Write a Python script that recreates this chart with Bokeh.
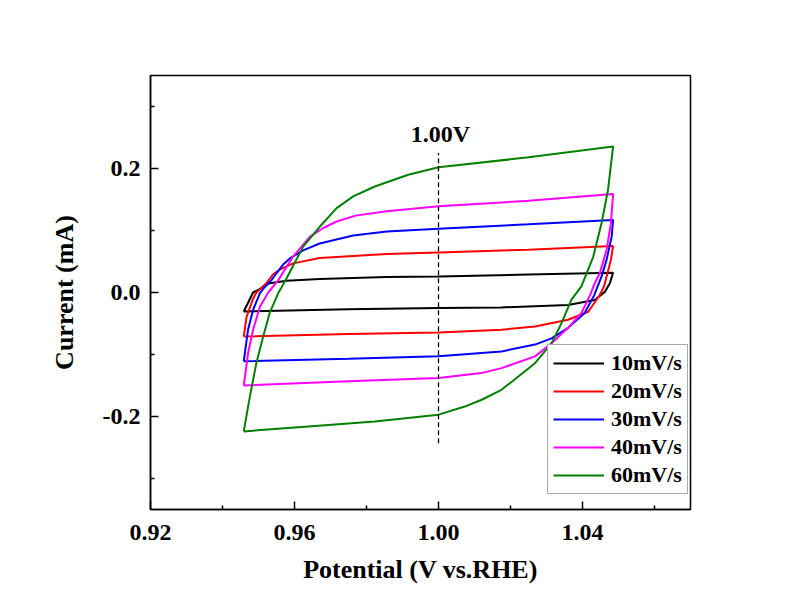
from bokeh.plotting import figure
from bokeh.models import Range1d, FixedTicker, Legend, LegendItem, Label
from bokeh.embed import file_html
from bokeh.resources import INLINE

# ---- data ----
labels = ["10mV/s", "20mV/s", "30mV/s", "40mV/s", "60mV/s"]
colors = ["#000000", "#ff0000", "#0000ff", "#ff00ff", "#008000"]

v10 = [0.9459, 0.9485, 0.9508, 0.9531, 0.9578, 0.9670, 0.9856, 1.0000, 1.0250, 1.0485,
       1.0476, 1.0462, 1.0434, 1.0360, 1.0175, 1.0000, 0.9750, 0.9459]
i10 = [-0.0306, 0.0000, 0.0070, 0.0150, 0.0190, 0.0216, 0.0250, 0.0260, 0.0290, 0.0320,
       0.0150, 0.0010, -0.0120, -0.0200, -0.0240, -0.0250, -0.0270, -0.0306]

v20 = [0.9459, 0.9467, 0.9485, 0.9494, 0.9522, 0.9540, 0.9559, 0.9596, 0.9670, 0.9763,
       0.9856, 1.0000, 1.0250, 1.0485, 1.0479, 1.0467, 1.0460, 1.0448, 1.0416, 1.0360,
       1.0268, 1.0175, 1.0000, 0.9750, 0.9459]
i20 = [-0.0710, -0.0390, -0.0100, 0.0000, 0.0150, 0.0290, 0.0370, 0.0470, 0.0555, 0.0590,
       0.0620, 0.0645, 0.0690, 0.0750, 0.0530, 0.0260, 0.0100, -0.0040, -0.0310, -0.0440,
       -0.0550, -0.0600, -0.0645, -0.0670, -0.0710]

v30 = [0.9459, 0.9471, 0.9485, 0.9504, 0.9513, 0.9536, 0.9550, 0.9570, 0.9587, 0.9624,
       0.9670, 0.9763, 0.9856, 1.0000, 1.0250, 1.0485, 1.0481, 1.0467, 1.0453, 1.0432,
       1.0406, 1.0360, 1.0314, 1.0268, 1.0175, 1.0000, 0.9750, 0.9459]
i30 = [-0.1110, -0.0600, -0.0280, -0.0010, 0.0060, 0.0200, 0.0310, 0.0460, 0.0550, 0.0680,
       0.0790, 0.0920, 0.0985, 0.1030, 0.1100, 0.1170, 0.0900, 0.0530, 0.0260, -0.0050,
       -0.0330, -0.0570, -0.0740, -0.0840, -0.0950, -0.1030, -0.1070, -0.1110]

v40 = [0.9459, 0.9471, 0.9485, 0.9504, 0.9527, 0.9555, 0.9596, 0.9643, 0.9680, 0.9717,
       0.9770, 0.9856, 1.0000, 1.0250, 1.0485, 1.0479, 1.0467, 1.0448, 1.0434, 1.0422,
       1.0397, 1.0360, 1.0314, 1.0268, 1.0175, 1.0119, 1.0000, 0.9750, 0.9459]
i40 = [-0.1500, -0.0980, -0.0600, -0.0230, 0.0000, 0.0200, 0.0580, 0.0900, 0.1040, 0.1145,
       0.1240, 0.1310, 0.1390, 0.1480, 0.1590, 0.1120, 0.0690, 0.0310, 0.0150, -0.0030,
       -0.0330, -0.0570, -0.0820, -0.1030, -0.1220, -0.1300, -0.1380, -0.1430, -0.1500]

v60 = [0.9459, 0.9476, 0.9494, 0.9513, 0.9531, 0.9555, 0.9578, 0.9624, 0.9670, 0.9717,
       0.9763, 0.9823, 0.9916, 1.0000, 1.0250, 1.0485, 1.0471, 1.0453, 1.0430, 1.0397,
       1.0369, 1.0342, 1.0314, 1.0268, 1.0175, 1.0120, 1.0073, 1.0000, 0.9823, 0.9638,
       0.9459]
i60 = [-0.2240, -0.1680, -0.1140, -0.0710, -0.0330, -0.0010, 0.0230, 0.0740, 0.1060, 0.1360,
       0.1550, 0.1710, 0.1900, 0.2020, 0.2180, 0.2355, 0.1660, 0.1120, 0.0580, 0.0100,
       -0.0120, -0.0490, -0.0820, -0.1140, -0.1570, -0.1730, -0.1840, -0.1970, -0.2080, -0.2160,
       -0.2240]

marker_x = [1.00, 1.00]
marker_y = [-0.243, 0.225]
marker_text = "1.00V"
marker_text_y = 0.255

x_ticks = [0.92, 0.96, 1.00, 1.04]
x_tick_labels = ["0.92", "0.96", "1.00", "1.04"]
x_minor = [0.94, 0.98, 1.02, 1.06]
y_ticks = [-0.2, 0.0, 0.2]
y_tick_labels = ["-0.2", "0.0", "0.2"]
y_minor = [-0.3, -0.1, 0.1, 0.3]

FONT = "Liberation Serif"

p = figure(width=771, height=586, output_backend="svg", toolbar_location=None,
           x_range=Range1d(0.92, 1.07), y_range=Range1d(-0.35, 0.35),
           min_border_left=150, min_border_right=81, min_border_top=75, min_border_bottom=76)
p.background_fill_color = "white"
p.border_fill_color = "white"
p.xgrid.visible = False
p.ygrid.visible = False
p.outline_line_color = "black"
p.outline_line_width = 1.5

series = [(v10, i10), (v20, i20), (v30, i30), (v40, i40), (v60, i60)]
items = []
for (vx, iy), lab, col in zip(series, labels, colors):
    r = p.line(vx, iy, line_color=col, line_width=2)
    items.append(LegendItem(label=lab, renderers=[r]))

p.line(marker_x, marker_y, line_color="black", line_width=1.3, line_dash="5 3")
p.add_layout(Label(x=marker_x[0], y=marker_text_y, text=marker_text, text_align="center",
                   text_baseline="alphabetic", text_font=FONT, text_font_style="bold",
                   text_font_size="24px", text_color="black", x_offset=2))

for ax, ticks, tlabels, minor, title in [
        (p.xaxis[0], x_ticks, x_tick_labels, x_minor, "Potential (V vs.RHE)"),
        (p.yaxis[0], y_ticks, y_tick_labels, y_minor, "Current (mA)")]:
    ax.ticker = FixedTicker(ticks=ticks, minor_ticks=minor)
    ax.major_label_overrides = {t: s for t, s in zip(ticks, tlabels)}
    ax.axis_label = title
    ax.axis_label_text_font = FONT
    ax.axis_label_text_font_style = "bold"
    ax.axis_label_text_font_size = "26px"
    ax.axis_label_text_color = "black"
    ax.major_label_text_font = FONT
    ax.major_label_text_font_style = "bold"
    ax.major_label_text_font_size = "24px"
    ax.major_label_text_color = "black"
    ax.axis_line_width = 1.5
    ax.axis_line_color = "black"
    ax.major_tick_in = 8
    ax.major_tick_out = 0
    ax.minor_tick_in = 4
    ax.minor_tick_out = 0
    ax.major_tick_line_width = 1.5
    ax.minor_tick_line_width = 1.5
    ax.major_tick_line_color = "black"
    ax.minor_tick_line_color = "black"

p.xaxis.major_label_standoff = 15
p.xaxis.axis_label_standoff = 12
p.yaxis.major_label_standoff = 10
p.yaxis.axis_label_standoff = 21

legend = Legend(items=items, location=(397, 15), margin=0, padding=5, spacing=2,
                glyph_width=51, glyph_height=24, label_height=24, label_standoff=7,
                label_text_font=FONT, label_text_font_style="bold", label_text_font_size="22px",
                label_text_color="black", border_line_color="#555555", border_line_width=1,
                background_fill_color="white", background_fill_alpha=1.0)
p.add_layout(legend)

open("out.html", "w").write(file_html(p, INLINE))
